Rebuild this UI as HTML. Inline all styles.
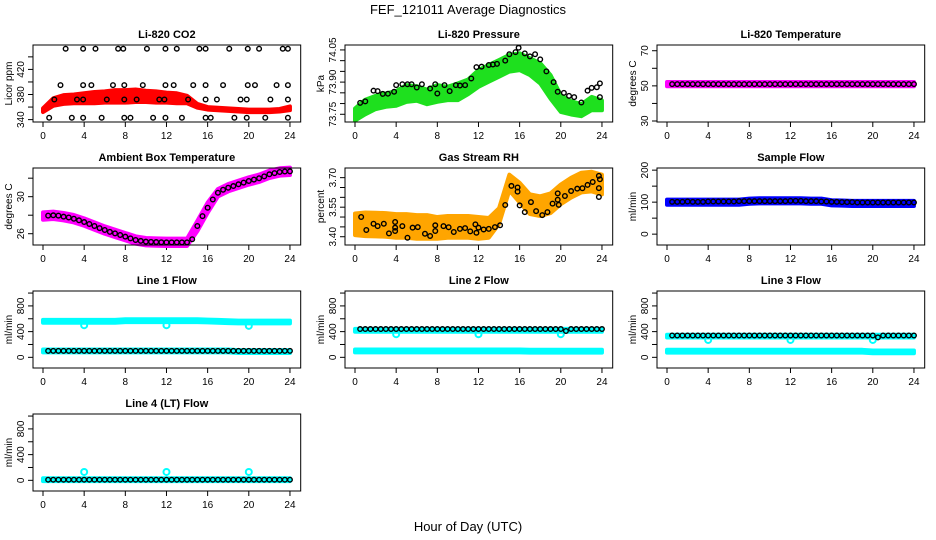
<!DOCTYPE html>
<html><head><meta charset="utf-8"><style>
body{margin:0;background:#fff}
svg{display:block;font-family:"Liberation Sans",Arial,sans-serif}
</style></head><body>
<svg id="chart" width="936" height="540" viewBox="0 0 936 540" xmlns="http://www.w3.org/2000/svg">
<rect width="936" height="540" fill="#fff"/>
<text x="468" y="14" text-anchor="middle" font-size="13">FEF_121011  Average Diagnostics</text>
<text x="468" y="531" text-anchor="middle" font-size="13">Hour of Day (UTC)</text>
</svg>
<script>
// shared hours for bands
const hours=[0,1,2,3,4,5,6,7,8,9,10,11,12,13,14,15,16,17,18,19,20,21,22,23,24];
const halfHours=[0.5,1,1.5,2,2.5,3,3.5,4,4.5,5,5.5,6,6.5,7,7.5,8,8.5,9,9.5,10,10.5,11,11.5,12,12.5,13,13.5,14,14.5,15,15.5,16,16.5,17,17.5,18,18.5,19,19.5,20,20.5,21,21.5,22,22.5,23,23.5,24];
const xTicks=[0,4,8,12,16,20,24];

// CO2
const co2Band=[355,368,372,373,374,375,376,377,377,378,377,376,375,374,372,362,358,357,356,355,354,354,354,355,358];
const co2Half=[3,6,7,7,8,9,9,10,10,10,9,9,8,8,6,3,2,2,2,2,2,2,2,2,3];
const co2PtT=[2.2,3.9,5.1,7.3,7.8,10.1,11.9,13,15.2,15.8,18.1,19.9,21,23.3,23.8,1.7,3.9,4.7,6.8,7.9,9.7,11.9,12.7,14.6,15.8,17.5,19.9,20.6,22.7,23.8,1.1,3.3,3.9,6.2,7.9,9.1,11.3,11.8,14.1,15.8,16.9,19.2,19.8,22.1,23.8,0.6,2.8,3.9,5.7,7.9,8.5,10.7,11.9,13.5,15.8,16.3,18.6,19.8,21.6,23.8];
const co2PtV=[453,453,453,453,453,453,453,453,453,453,453,453,453,453,453,395,395,395,395,395,395,395,395,395,395,395,395,395,395,395,372,372,372,372,372,372,372,372,372,372,372,372,372,372,372,343,343,343,343,343,343,343,343,343,343,343,343,343,343,343];

// Pressure
const presBand=[73.749,73.784,73.805,73.816,73.824,73.847,73.847,73.831,73.847,73.847,73.855,73.878,73.917,73.941,73.964,73.988,73.995,73.972,73.941,73.878,73.800,73.780,73.769,73.800,73.792];
const presHalf=[0.028,0.034,0.031,0.031,0.034,0.039,0.034,0.034,0.039,0.031,0.039,0.034,0.039,0.039,0.039,0.039,0.039,0.039,0.047,0.055,0.039,0.031,0.028,0.031,0.023];
const presPtT=[0.5,1,1.8,2.2,2.7,3.2,3.8,4,4.6,5.1,5.5,6,6.5,7.3,7.8,8,8.7,9.2,9.8,10.2,10.7,11.3,11.8,12.3,13,13.4,13.8,14.6,15,15.6,15.9,16.5,17,17.5,18,18.6,19.3,19.7,20.3,20.8,21.3,22,22.6,23,23.5,23.8,23.8];
const presPtV=[73.803,73.81,73.86,73.858,73.845,73.846,73.855,73.886,73.89,73.89,73.89,73.875,73.89,73.87,73.89,73.847,73.886,73.858,73.886,73.884,73.886,73.917,73.97,73.972,73.98,73.982,73.985,74.0,74.03,74.04,74.06,74.034,74.02,74.03,74.006,73.95,73.90,73.855,73.85,73.836,73.83,73.805,73.86,73.873,73.876,73.894,73.83];

// Li-820 temperature
const tempBand=[51,51,51,51,51,51,51,51,51,51,51,51,51,51,51,51,51,51,51,51,51,51,51,51,51];
const tempHalf=[1.2,1.2,1.2,1.2,1.2,1.2,1.2,1.2,1.2,1.2,1.2,1.2,1.2,1.2,1.2,1.2,1.2,1.2,1.2,1.2,1.2,1.2,1.2,1.2,1.2];
const tempPtV=[51,51,51,51,51,51,51,51,51,51,51,51,51,51,51,51,51,51,51,51,51,51,51,51,51,51,51,51,51,51,51,51,51,51,51,51,51,51,51,51,51,51,51,51,51,51,51,51];

// Ambient box temperature
const ambBand=[27.91,27.99,27.84,27.62,27.26,26.83,26.40,26.04,25.68,25.32,25.14,25.10,25.07,25.07,25.07,26.83,28.81,30.43,30.97,31.34,31.70,31.99,32.42,32.67,32.74];
const ambHalf=[0.4,0.4,0.4,0.4,0.4,0.4,0.4,0.4,0.4,0.4,0.4,0.4,0.4,0.4,0.4,0.55,0.55,0.4,0.4,0.4,0.4,0.4,0.4,0.4,0.4];
const ambPtV=[27.95,27.99,27.95,27.84,27.75,27.62,27.45,27.26,27.05,26.83,26.6,26.4,26.2,26.04,25.86,25.68,25.5,25.32,25.22,25.14,25.12,25.1,25.08,25.07,25.07,25.07,25.07,25.07,25.4,26.83,27.9,28.81,29.7,30.43,30.75,30.97,31.15,31.34,31.52,31.7,31.85,31.99,32.2,32.42,32.55,32.67,32.72,32.74];

// Gas stream RH
const rhBand=[3.463,3.463,3.462,3.46,3.455,3.455,3.45,3.45,3.445,3.45,3.45,3.45,3.445,3.445,3.505,3.675,3.624,3.565,3.555,3.57,3.615,3.649,3.675,3.68,3.665];
const rhHalf=[0.055,0.06,0.06,0.06,0.06,0.06,0.06,0.06,0.055,0.055,0.055,0.055,0.055,0.05,0.04,0.04,0.05,0.05,0.05,0.05,0.05,0.05,0.05,0.05,0.05];
const rhPtT=[0.6,1.1,1.8,2.2,2.8,3.3,3.9,3.9,3.9,4.6,5.1,5.6,6.1,6.8,7.3,7.8,7.8,8.6,9.1,9.6,10.2,10.7,11.2,11.7,11.8,12,12.5,13,13.6,14.1,14.6,15.2,15.8,15.8,16,16.5,17.1,17.6,18.2,18.7,19.2,19.7,19.7,19.8,20.4,21,21.6,22.1,22.6,23.1,23.7,23.8,23.7,23.7];
const rhPtV=[3.50,3.434,3.466,3.454,3.466,3.417,3.475,3.446,3.429,3.454,3.395,3.446,3.449,3.415,3.404,3.458,3.429,3.454,3.448,3.424,3.44,3.444,3.427,3.463,3.42,3.446,3.437,3.44,3.449,3.458,3.561,3.658,3.65,3.629,3.559,3.525,3.576,3.53,3.51,3.525,3.568,3.62,3.588,3.562,3.607,3.632,3.644,3.646,3.663,3.678,3.709,3.692,3.647,3.602];

// Sample flow
const sfBand=[100,100,100,100,100,100,100,100,103,104,104,104,104,104,103,103,98,97,96,96,96,96,96,96,96];
const sfHalf=[8,8,8,8,8,8,8,8,8,8,8,8,8,8,8,8,8,8,8,8,8,8,8,8,8];
const sfPtV=[101,101,101,102,101,101,101,102,102,102,102,102,102,103,103,103,103,103,103,103,103,103,103,104,104,104,103,103,103,102,102,101,101,100,100,100,99,99,99,99,99,99,99,99,99,99,99,99];

// Line flows (cyan bands)
const l1Upper=[560,560,560,560,560,560,560,560,570,570,570,570,570,570,570,570,565,560,555,550,550,550,550,550,550];
const l1Lower=[100,100,100,100,100,100,100,100,100,100,100,100,100,100,100,100,100,100,100,90,90,90,90,90,90];
const l1Black=[100,100,100,100,100,100,100,100,100,100,100,100,100,100,100,100,100,100,100,100,100,100,100,100,100,100,100,100,100,100,100,100,100,100,100,100,100,100,100,100,100,100,100,100,100,100,100,100];
const l1DipV=[500,500,490];
const l2Upper=[420,420,420,420,420,420,420,420,420,420,420,420,420,420,420,420,420,420,420,420,420,420,420,420,420];
const l2Lower=[100,100,100,100,100,100,100,100,100,100,100,100,100,100,100,100,100,95,95,95,95,95,95,95,95];
const l2Black=[440,440,440,440,440,440,440,440,440,440,440,440,440,440,440,440,440,440,440,440,440,440,440,440,440,440,440,440,440,440,440,440,440,440,440,440,440,440,440,440,410,440,440,440,440,440,440,440];
const l2DipV=[360,360,360];
const l3Upper=[330,330,330,330,330,330,330,330,330,330,330,330,330,330,330,330,330,330,330,330,330,330,330,330,330];
const l3Lower=[95,95,95,95,95,95,95,95,95,95,95,95,95,95,95,95,95,95,95,95,85,85,85,85,85];
const l3Black=[340,340,340,340,340,340,340,340,340,340,340,340,340,340,340,340,340,340,340,340,340,340,340,340,340,340,340,340,340,340,340,340,340,340,340,340,340,340,340,340,310,340,340,340,340,340,340,340];
const l3DipV=[270,270,270];
const l4Band=[10,10,10,10,10,10,10,10,10,10,10,10,10,10,10,10,10,10,10,10,10,10,10,10,10];
const l4Black=[10,10,10,10,10,10,10,10,10,10,10,10,10,10,10,10,10,10,10,10,10,10,10,10,10,10,10,10,10,10,10,10,10,10,10,10,10,10,10,10,10,10,10,10,10,10,10,10];
const l4DipV=[130,130,130];
const dipT=[4,12,20];
const flowHalf=[22,22,22,22,22,22,22,22,22,22,22,22,22,22,22,22,22,22,22,22,22,22,22,22,22];

const NS='http://www.w3.org/2000/svg';
const svg=document.getElementById('chart');
function mk(tag,attrs,parent){const e=document.createElementNS(NS,tag);for(const k in attrs)e.setAttribute(k,attrs[k]);(parent||svg).appendChild(e);return e;}

const colX=[0,312,624], rowY=[45,168,291,414], BW=267.7, BH=77;
function panel(col,row,title,ylab,ylim,ticks,labels){
  const g=mk('g',{});
  
  
  const L=colX[col]+33,T=rowY[row],B=T+BH;
  const x=t=>colX[col]+43+t*10.29;
  const y=v=>B-(v-ylim[0])/(ylim[1]-ylim[0])*BH;
  const p={g,x,y,L,T,B};
  const tt=mk('text',{x:L+BW/2,y:T-7,'text-anchor':'middle','font-size':11,'font-weight':'bold'},g);tt.textContent=title;
  
  const yl=mk('text',{transform:`translate(${colX[col]+12},${(T+B)/2}) rotate(-90)`,'text-anchor':'middle','font-size':10},g);yl.textContent=ylab;
  
  // x axis
  mk('line',{x1:x(0),x2:x(24),y1:B,y2:B,stroke:'#000'},g);
  xTicks.forEach(t=>{mk('line',{x1:x(t),x2:x(t),y1:B,y2:B+5,stroke:'#000'},g);
    const l=mk('text',{x:x(t),y:B+17,'text-anchor':'middle','font-size':10},g);l.textContent=t;
    });
  // y axis
  mk('line',{x1:L,x2:L,y1:y(ticks[0]),y2:y(ticks[ticks.length-1]),stroke:'#000'},g);
  ticks.forEach(v=>{mk('line',{x1:L-5,x2:L,y1:y(v),y2:y(v),stroke:'#000'},g);});
  labels.forEach(v=>{const l=mk('text',{transform:`translate(${L-9},${y(+v)}) rotate(-90)`,'text-anchor':'middle','font-size':10},g);l.textContent=v;
    });
  p.plot=mk('g',{},g);
  mk('rect',{x:L,y:T,width:BW,height:BH,fill:'none',stroke:'#000'},g);
  return p;
}
function band(p,ts,c,h,color,name){
  let top=ts.map((t,i)=>p.x(t)+','+p.y(c[i]+h[i])).join(' ');
  let bot=ts.map((t,i)=>p.x(t)+','+p.y(c[i]-h[i])).reverse().join(' ');
  const e=mk('polygon',{points:top+' '+bot,fill:color,stroke:color,'stroke-width':4,'stroke-linejoin':'round'},p.plot);
  
  
}
function pts(p,ts,vs,color,name,r,w){
  ts.forEach((t,i)=>{const c=mk('circle',{cx:p.x(t),cy:p.y(vs[i]),r:r||2.3,fill:'none',stroke:color,'stroke-width':w||1.4},p.plot);
    
    });
}

let p;
p=panel(0,0,'Li-820 CO2','Licor ppm',[336.2,458.9],[340,360,380,400,420,440],['340','380','420']);
band(p,hours,co2Band,co2Half,'#ff0000','co2-band');pts(p,co2PtT,co2PtV,'#000','co2-point');

p=panel(1,0,'Li-820 Pressure','kPa',[73.714,74.073],[73.75,73.8,73.85,73.9,73.95,74,74.05],['73.75','73.90','74.05']);
band(p,hours,presBand,presHalf,'#1ee01e','pressure-band');pts(p,presPtT,presPtV,'#000','pressure-point');

p=panel(2,0,'Li-820 Temperature','degrees C',[29.43,73.26],[30,40,50,60,70],['30','50','70']);
band(p,hours,tempBand,tempHalf,'#ff00ff','temperature-band');pts(p,halfHours,tempPtV,'#000','temperature-point');

p=panel(0,1,'Ambient Box Temperature','degrees C',[24.78,33.10],[26,28,30,32],['26','30']);
band(p,hours,ambBand,ambHalf,'#ff00ff','ambient-band');pts(p,halfHours,ambPtV,'#000','ambient-point');

p=panel(1,1,'Gas Stream RH','percent',[3.358,3.749],[3.4,3.45,3.5,3.55,3.6,3.65,3.7],['3.40','3.55','3.70']);
band(p,hours,rhBand,rhHalf,'#ffa500','rh-band');pts(p,rhPtT,rhPtV,'#000','rh-point');

p=panel(2,1,'Sample Flow','ml/min',[-33.9,206.7],[0,50,100,150,200],['0','100','200']);
band(p,hours,sfBand,sfHalf,'#0000ff','sample-flow-band');pts(p,halfHours,sfPtV,'#000','sample-flow-point');

const fl=[-166,1032],ft=[0,200,400,600,800,1000],flab=['0','400','800'];
p=panel(0,2,'Line 1 Flow','ml/min',fl,ft,flab);
band(p,hours,l1Upper,flowHalf,'#00ffff','line1-upper-band');band(p,hours,l1Lower,flowHalf,'#00ffff','line1-lower-band');
pts(p,dipT,l1DipV,'#00ffff','line1-dip',3,2);pts(p,halfHours,l1Black,'#000','line1-point');

p=panel(1,2,'Line 2 Flow','ml/min',fl,ft,flab);
band(p,hours,l2Upper,flowHalf,'#00ffff','line2-upper-band');band(p,hours,l2Lower,flowHalf,'#00ffff','line2-lower-band');
pts(p,dipT,l2DipV,'#00ffff','line2-dip',3,2);pts(p,halfHours,l2Black,'#000','line2-point');

p=panel(2,2,'Line 3 Flow','ml/min',fl,ft,flab);
band(p,hours,l3Upper,flowHalf,'#00ffff','line3-upper-band');band(p,hours,l3Lower,flowHalf,'#00ffff','line3-lower-band');
pts(p,dipT,l3DipV,'#00ffff','line3-dip',3,2);pts(p,halfHours,l3Black,'#000','line3-point');

p=panel(0,3,'Line 4 (LT) Flow','ml/min',fl,ft,flab);
band(p,hours,l4Band,flowHalf,'#00ffff','line4-band');
pts(p,dipT,l4DipV,'#00ffff','line4-bump',3,2);pts(p,halfHours,l4Black,'#000','line4-point');
</script>
</body></html>
